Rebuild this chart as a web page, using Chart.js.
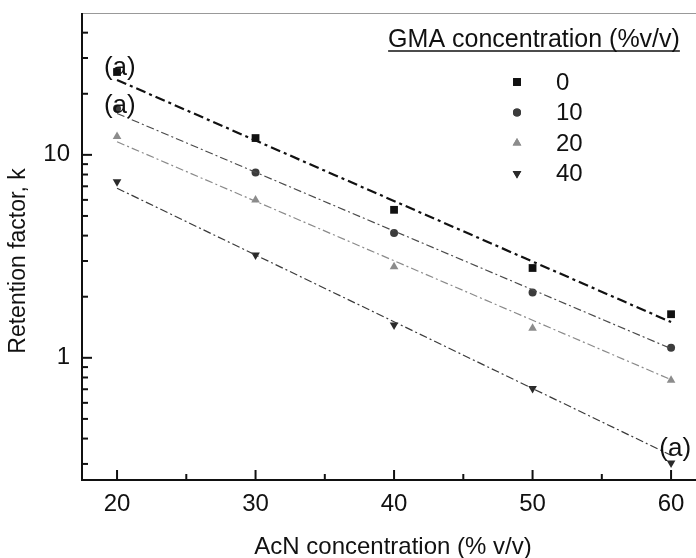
<!DOCTYPE html>
<html>
<head>
<meta charset="utf-8">
<script src="https://cdn.jsdelivr.net/npm/chart.js@4/dist/chart.umd.min.js"></script>
<style>
  body { margin: 0; background: #fff; }
  #wrap { width: 696px; height: 558px; position: relative; }
</style>
</head>
<body>
<div id="wrap"><canvas id="chart"></canvas></div>
<script>
const FONT = '"Liberation Sans", Arial, sans-serif';

// AcN concentration (% v/v)
const acn = [20, 30, 40, 50, 60];
// retention factor k, one array per GMA concentration
const gma = ['0', '10', '20', '40'];
const k0 = [25.6, 12.1, 5.36, 2.77, 1.64];
const k10 = [16.9, 8.18, 4.12, 2.10, 1.12];
const k20 = [12.3, 6.0, 2.81, 1.40, 0.776];
const k40 = [7.38, 3.21, 1.45, 0.706, 0.303];
// fitted lines (ends at 20 and 60)
const fitX = [20, 60];
const fit0 = [23.4, 1.50];
const fit10 = [16.0, 1.11];
const fit20 = [11.6, 0.78];
const fit40 = [6.85, 0.331];

// ticks
const xMajor = [20, 30, 40, 50, 60];
const xMinor = [25, 35, 45, 55];
const yMajor = [1, 10];
const yMinor = [0.3, 0.4, 0.5, 0.6, 0.7, 0.8, 0.9, 2, 3, 4, 5, 6, 7, 8, 9, 20, 30, 40];

// "(a)" notes: [x, k]
const notes = [[20.2, 26.8], [20.2, 17.4], [60.3, 0.358]];

const colors = ['#111111', '#3c3c3c', '#8c8c8c', '#2a2a2a'];
const lineColors = ['#111111', '#4a4a4a', '#8a8a8a', '#3a3a3a'];
const styles = ['rect', 'circle', 'triangle', 'triangle'];
const rot = [0, 0, 0, 180];
const radii = [5.5, 4, 5, 5];

const series = [k0, k10, k20, k40];
const fits = [fit0, fit10, fit20, fit40];

const pts = (xs, ys) => xs.map((v, i) => ({ x: v, y: ys[i] }));

const datasets = [];
fits.forEach((f, i) => {
  datasets.push({
    type: 'line',
    label: 'fit ' + gma[i],
    data: pts(fitX, f),
    borderColor: lineColors[i],
    borderWidth: i === 0 ? 2.2 : 1.2,
    borderDash: i === 0 ? [10, 4, 3, 4] : [8, 3, 2, 3],
    pointRadius: 0,
    fill: false,
    isFit: true
  });
});
series.forEach((s, i) => {
  datasets.push({
    type: 'scatter',
    label: gma[i],
    data: pts(acn, s),
    backgroundColor: colors[i],
    borderColor: colors[i],
    borderWidth: 0,
    pointStyle: styles[i],
    pointRotation: rot[i],
    pointRadius: radii[i]
  });
});

function seg(ctx, x1, y1, x2, y2) {
  ctx.beginPath(); ctx.moveTo(x1, y1); ctx.lineTo(x2, y2); ctx.stroke();
}

const frame = {
  id: 'frame',
  afterDraw(chart) {
    const { ctx, chartArea: a, scales: { x, y } } = chart;
    ctx.save();
    // thin top border
    ctx.strokeStyle = '#999';
    ctx.lineWidth = 1;
    seg(ctx, a.left, a.top + 0.5, a.right, a.top + 0.5);
    // axes
    ctx.strokeStyle = '#111';
    ctx.lineWidth = 2;
    seg(ctx, a.left, a.top, a.left, a.bottom + 1);
    seg(ctx, a.left - 1, a.bottom, a.right, a.bottom);
    // inward ticks
    xMajor.forEach(v => { const p = x.getPixelForValue(v); seg(ctx, p, a.bottom, p, a.bottom - 10); });
    xMinor.forEach(v => { const p = x.getPixelForValue(v); seg(ctx, p, a.bottom, p, a.bottom - 6); });
    yMajor.forEach(v => { const p = y.getPixelForValue(v); seg(ctx, a.left, p, a.left + 10, p); });
    yMinor.forEach(v => { const p = y.getPixelForValue(v); seg(ctx, a.left, p, a.left + 6, p); });

    // notes
    ctx.fillStyle = '#111';
    ctx.font = '26px ' + FONT;
    ctx.textAlign = 'center';
    ctx.textBaseline = 'middle';
    notes.forEach(n => ctx.fillText('(a)', x.getPixelForValue(n[0]), y.getPixelForValue(n[1])));

    // legend
    ctx.font = '25px ' + FONT;
    ctx.fillText('GMA concentration (%v/v)', 534, 40);
    const tw = ctx.measureText('GMA concentration (%v/v)').width;
    ctx.lineWidth = 1.5;
    seg(ctx, 534 - tw / 2, 51, 534 + tw / 2, 51);
    ctx.textAlign = 'left';
    ctx.font = '24px ' + FONT;
    const rows = chart.data.datasets.filter(d => !d.isFit);
    rows.forEach((d, i) => {
      const ry = 82 + i * 30.5;
      ctx.fillStyle = d.backgroundColor;
      Chart.helpers.drawPoint(ctx, { pointStyle: d.pointStyle, rotation: d.pointRotation, radius: d.pointRadius, borderWidth: 0 }, 517, ry);
      ctx.fill();
      ctx.fillStyle = '#111';
      ctx.fillText(d.label, 556, ry + 1);
    });

    // axis titles
    ctx.textAlign = 'center';
    ctx.font = '24px ' + FONT;
    ctx.fillText('AcN concentration (% v/v)', 393, 547);
    ctx.translate(19, 261);
    ctx.rotate(-Math.PI / 2);
    ctx.font = '23px ' + FONT;
    ctx.fillText('Retention factor, k', 0, 0);
    ctx.restore();
  }
};

new Chart(document.getElementById('chart'), {
  data: { datasets },
  options: {
    responsive: true,
    maintainAspectRatio: false,
    animation: false,
    events: [],
    layout: { autoPadding: false, padding: { top: 13, right: 0, left: 0, bottom: 0 } },
    plugins: { legend: { display: false }, tooltip: { enabled: false } },
    scales: {
      x: {
        type: 'linear',
        min: 17.47,
        max: 61.8,
        grid: { display: false },
        border: { display: false },
        afterBuildTicks: s => { s.ticks = xMajor.map(v => ({ value: v })); },
        afterFit: s => { s.height = 78; s.paddingLeft = 0; s.paddingRight = 0; },
        ticks: { font: { family: FONT, size: 24 }, color: '#111', padding: 2, maxRotation: 0 }
      },
      y: {
        type: 'logarithmic',
        min: 0.25,
        max: 50,
        grid: { display: false },
        border: { display: false },
        afterBuildTicks: s => { s.ticks = yMajor.map(v => ({ value: v })); },
        afterFit: s => { s.width = 82; s.paddingTop = 0; s.paddingBottom = 0; },
        ticks: { font: { family: FONT, size: 24 }, color: '#111', padding: 4, callback: v => String(v) }
      }
    }
  },
  plugins: [frame]
});
</script>
</body>
</html>
